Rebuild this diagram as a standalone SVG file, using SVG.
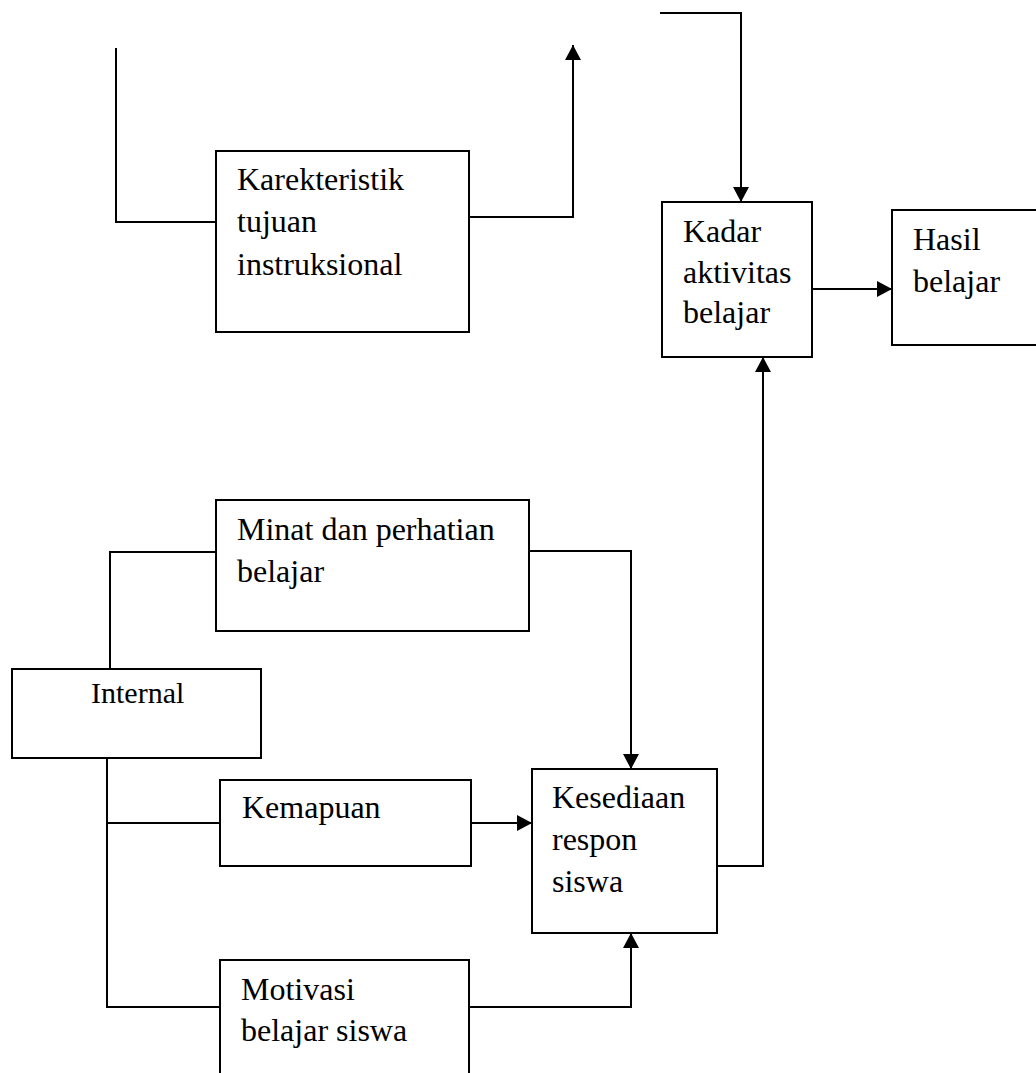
<svg xmlns="http://www.w3.org/2000/svg" width="1036" height="1073" viewBox="0 0 1036 1073">
<style>
.box{fill:#fff;stroke:#000;stroke-width:2}
.lbl{font-family:"Liberation Serif","Times New Roman",serif;font-size:32px;fill:#000}
.sm{font-size:30px}
.con{fill:none;stroke:#000;stroke-width:2}
</style>
<defs>
<marker id="arr" viewBox="0 0 15 16" refX="15" refY="8" markerWidth="15" markerHeight="16" markerUnits="userSpaceOnUse" orient="auto">
<path d="M0,0 L15,8 L0,16 Z" fill="#000"/>
</marker>
</defs>
<rect width="1036" height="1073" fill="#fff"/>
<g id="connectors">
<path class="con" d="M116,48 V222 H216"/>
<path class="con" d="M469,217 H573 V45" marker-end="url(#arr)"/>
<path class="con" d="M660,13 H741 V202" marker-end="url(#arr)"/>
<path class="con" d="M812,289 H892" marker-end="url(#arr)"/>
<path class="con" d="M717,866 H763 V357" marker-end="url(#arr)"/>
<path class="con" d="M529,551 H631 V769" marker-end="url(#arr)"/>
<path class="con" d="M110,669 V552 H216"/>
<path class="con" d="M107,758 V1007 H220"/>
<path class="con" d="M107,823 H220"/>
<path class="con" d="M471,823 H532" marker-end="url(#arr)"/>
<path class="con" d="M469,1007 H631 V933" marker-end="url(#arr)"/>
</g>
<g id="karekteristik">
<rect class="box" x="216" y="151" width="253" height="181"/>
<text class="lbl" x="237" y="190">Karekteristik</text>
<text class="lbl" x="237" y="232">tujuan</text>
<text class="lbl" x="237" y="275">instruksional</text>
</g>
<g id="kadar">
<rect class="box" x="662" y="202" width="150" height="155"/>
<text class="lbl" x="683" y="242">Kadar</text>
<text class="lbl" x="683" y="283">aktivitas</text>
<text class="lbl" x="683" y="323">belajar</text>
</g>
<g id="hasil">
<rect class="box" x="892" y="210" width="150" height="135"/>
<text class="lbl" x="913" y="250">Hasil</text>
<text class="lbl" x="913" y="292">belajar</text>
</g>
<g id="minat">
<rect class="box" x="216" y="500" width="313" height="131"/>
<text class="lbl" x="237" y="540">Minat dan perhatian</text>
<text class="lbl" x="237" y="582">belajar</text>
</g>
<g id="internal">
<rect class="box" x="12" y="669" width="249" height="89"/>
<text class="lbl sm" x="91" y="703">Internal</text>
</g>
<g id="kemapuan">
<rect class="box" x="220" y="780" width="251" height="86"/>
<text class="lbl" x="242" y="818">Kemapuan</text>
</g>
<g id="kesediaan">
<rect class="box" x="532" y="769" width="185" height="164"/>
<text class="lbl" x="552" y="808">Kesediaan</text>
<text class="lbl" x="552" y="850">respon</text>
<text class="lbl" x="552" y="892">siswa</text>
</g>
<g id="motivasi">
<rect class="box" x="220" y="960" width="249" height="130"/>
<text class="lbl" x="241" y="1000">Motivasi</text>
<text class="lbl" x="241" y="1041">belajar siswa</text>
</g>
</svg>
